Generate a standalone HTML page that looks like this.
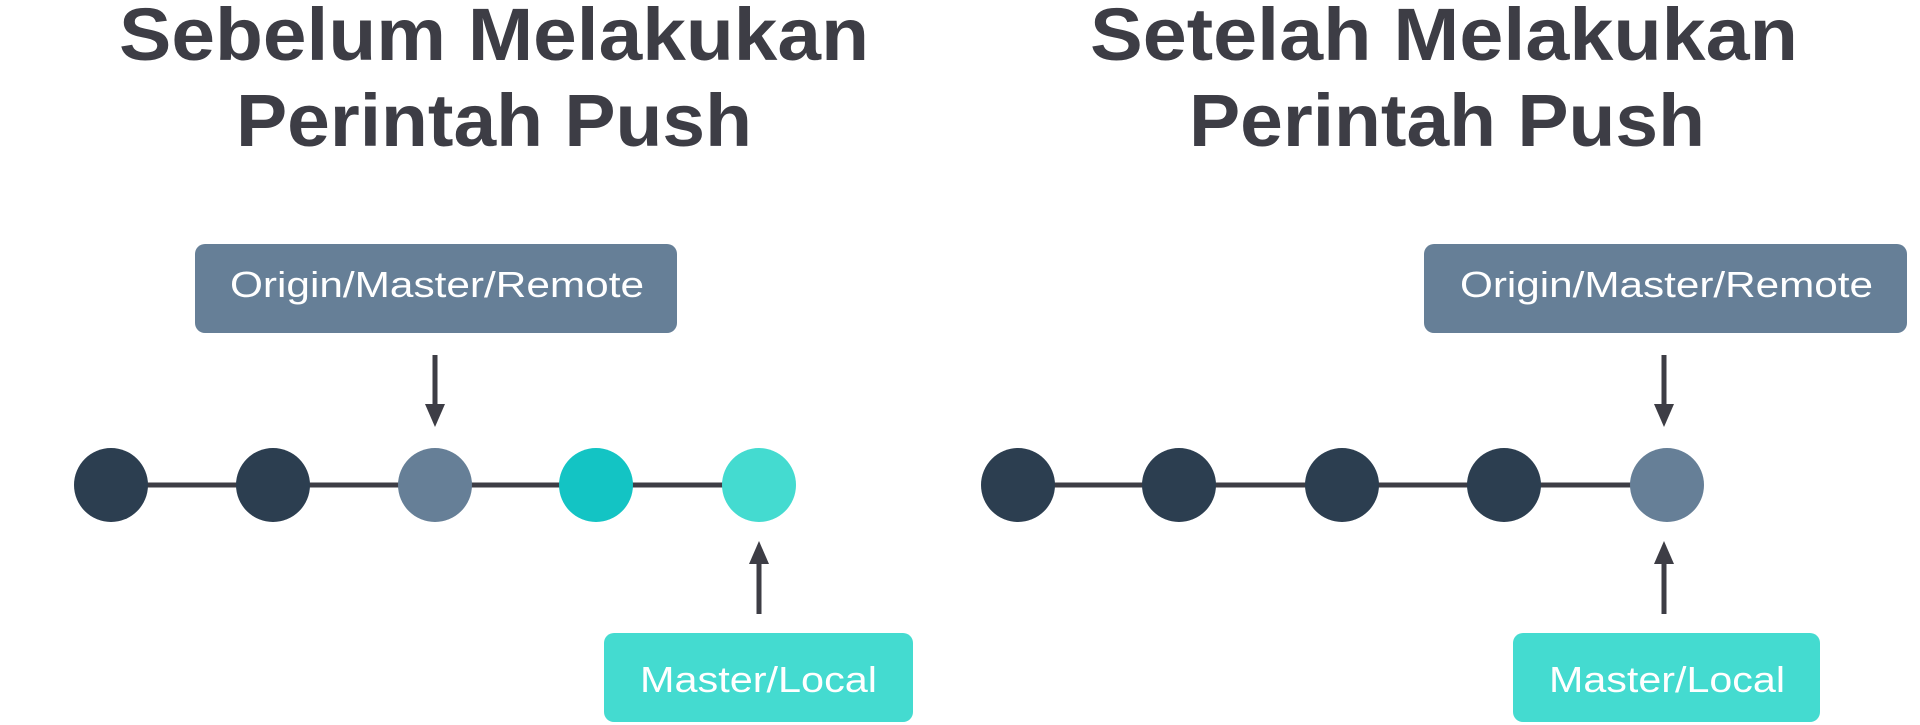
<!DOCTYPE html>
<html><head><meta charset="utf-8"><style>
html,body{margin:0;padding:0;background:#fff;width:1920px;height:725px;overflow:hidden}
svg{display:block}
text{font-family:"Liberation Sans",sans-serif}
</style></head><body>
<svg width="1920" height="725" viewBox="0 0 1920 725" xmlns="http://www.w3.org/2000/svg">
<g fill="#3d3d45" font-weight="bold" font-size="74">
<text x="119" y="60" textLength="750" lengthAdjust="spacingAndGlyphs">Sebelum Melakukan</text>
<text x="236" y="146" textLength="516" lengthAdjust="spacingAndGlyphs">Perintah Push</text>
<text x="1090" y="60" textLength="708" lengthAdjust="spacingAndGlyphs">Setelah Melakukan</text>
<text x="1189" y="146" textLength="516" lengthAdjust="spacingAndGlyphs">Perintah Push</text>
</g>
<rect x="195" y="244" width="482" height="89" rx="10" fill="#667f97"/>
<rect x="1424" y="244" width="483" height="89" rx="10" fill="#667f97"/>
<rect x="604" y="633" width="309" height="89" rx="10" fill="#44dbd0"/>
<rect x="1513" y="633" width="307" height="89" rx="10" fill="#44dbd0"/>
<g fill="#fff" font-size="36">
<text x="230" y="297" textLength="414" lengthAdjust="spacingAndGlyphs">Origin/Master/Remote</text>
<text x="1460" y="297" textLength="413" lengthAdjust="spacingAndGlyphs">Origin/Master/Remote</text>
<text x="640" y="692" textLength="237" lengthAdjust="spacingAndGlyphs">Master/Local</text>
<text x="1549" y="692" textLength="236" lengthAdjust="spacingAndGlyphs">Master/Local</text>
</g>
<g stroke="#3d3d45" stroke-width="5">
<line x1="111" y1="485" x2="759" y2="485"/>
<line x1="1018" y1="485" x2="1667" y2="485"/>
<line x1="435" y1="355" x2="435" y2="410"/>
<line x1="1664" y1="355" x2="1664" y2="410"/>
<line x1="759" y1="614" x2="759" y2="558"/>
<line x1="1664" y1="614" x2="1664" y2="558"/>
</g>
<g fill="#3d3d45">
<polygon points="425,404 445,404 435,427"/>
<polygon points="1654,404 1674,404 1664,427"/>
<polygon points="749,564 769,564 759,541"/>
<polygon points="1654,564 1674,564 1664,541"/>
</g>
<circle cx="111" cy="485" r="37" fill="#2c3e50"/>
<circle cx="273" cy="485" r="37" fill="#2c3e50"/>
<circle cx="435" cy="485" r="37" fill="#667f97"/>
<circle cx="596" cy="485" r="37" fill="#13c4c4"/>
<circle cx="759" cy="485" r="37" fill="#44dbd0"/>
<circle cx="1018" cy="485" r="37" fill="#2c3e50"/>
<circle cx="1179" cy="485" r="37" fill="#2c3e50"/>
<circle cx="1342" cy="485" r="37" fill="#2c3e50"/>
<circle cx="1504" cy="485" r="37" fill="#2c3e50"/>
<circle cx="1667" cy="485" r="37" fill="#667f97"/>
</svg>
</body></html>
